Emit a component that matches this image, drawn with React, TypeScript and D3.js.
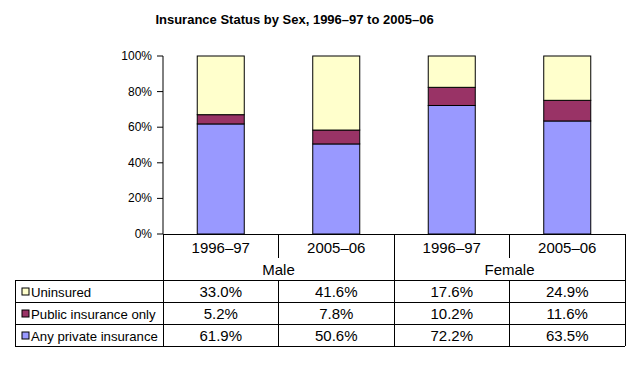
import React from "react";
import * as d3 from "d3";

const groups = ["Male", "Female"];
const periods = ["1996–97", "2005–06"];
const categories = ["Male 1996–97", "Male 2005–06", "Female 1996–97", "Female 2005–06"];
const seriesNames = ["Uninsured", "Public insurance only", "Any private insurance"];
const uninsured = [33.0, 41.6, 17.6, 24.9];
const publicOnly = [5.2, 7.8, 10.2, 11.6];
const privateIns = [61.9, 50.6, 72.2, 63.5];
const yTicks = [0, 0.2, 0.4, 0.6, 0.8, 1];

const colors: Record<string, string> = {
  "Uninsured": "#FFFFCC",
  "Public insurance only": "#993366",
  "Any private insurance": "#9999FF",
};

const W = 638;
const H = 365;
const left = 163;
const right = 625;
const top = 56;
const axisY = 234;
const tableLeft = 15;
const yearRowBottom = 258;
const groupRowBottom = 280;
const rowH = 22;
const font = "'Liberation Sans', Arial, sans-serif";

const App = () => {
  const rows = categories.map((c, i) => ({
    cat: c,
    "Any private insurance": privateIns[i],
    "Public insurance only": publicOnly[i],
    "Uninsured": uninsured[i],
  }));

  // stacked bottom-up: private, public, uninsured (100% stacked)
  const stacked = d3
    .stack<any>()
    .keys(["Any private insurance", "Public insurance only", "Uninsured"])
    .offset(d3.stackOffsetExpand)(rows);

  const x = d3.scaleBand().domain(categories).range([left, right]).paddingInner(0).paddingOuter(0);
  const xBar = d3.scaleBand().domain(categories).range([left, right]).paddingInner(0.593).paddingOuter(0.2965);
  const y = d3.scaleLinear().domain([0, 1]).range([axisY, top]);

  const tableRows = [uninsured, publicOnly, privateIns];
  const fmt = (v: number) => v.toFixed(1) + "%";

  return (
    <svg width={W} height={H} style={{ position: "absolute", left: 0, top: 0, background: "#fff" }} fontFamily={font}>
      <rect width={W} height={H} fill="#fff" />
      <text x={294.5} y={24} textAnchor="middle" fontSize={13} fontWeight="bold" fill="#000">
        Insurance Status by Sex, 1996–97 to 2005–06
      </text>

      {/* y axis */}
      <line x1={left} x2={left} y1={top} y2={axisY} stroke="#000" />
      {yTicks.map((t) => (
        <g key={t}>
          <line x1={left - 6} x2={left} y1={y(t)} y2={y(t)} stroke="#000" />
          <text x={left - 11} y={y(t) + 4} textAnchor="end" fontSize={12} fill="#000">
            {d3.format(".0%")(t)}
          </text>
        </g>
      ))}

      {/* bars */}
      {stacked.map((s) => (
        <g key={s.key} fill={colors[s.key]}>
          {s.map((d, i) => (
            <rect
              key={i}
              x={xBar(categories[i])}
              width={xBar.bandwidth()}
              y={y(d[1])}
              height={y(d[0]) - y(d[1])}
              stroke="#000"
              strokeWidth={1}
            />
          ))}
        </g>
      ))}

      {/* table lines */}
      <g stroke="#000" strokeWidth={1} shapeRendering="crispEdges">
        <line x1={left} x2={right} y1={axisY} y2={axisY} />
        {[groupRowBottom, groupRowBottom + rowH, groupRowBottom + 2 * rowH, groupRowBottom + 3 * rowH].map((yy) => (
          <line key={yy} x1={tableLeft} x2={right} y1={yy} y2={yy} />
        ))}
        <line x1={tableLeft} x2={tableLeft} y1={groupRowBottom} y2={groupRowBottom + 3 * rowH} />
        <line x1={left} x2={left} y1={axisY} y2={groupRowBottom + 3 * rowH} />
        <line x1={right} x2={right} y1={axisY} y2={groupRowBottom + 3 * rowH} />
        {categories.map((c, i) =>
          i === 0 ? null : i % 2 === 0 ? (
            <line key={c} x1={x(c)} x2={x(c)} y1={axisY} y2={groupRowBottom + 3 * rowH} />
          ) : (
            <g key={c}>
              <line x1={x(c)} x2={x(c)} y1={axisY} y2={yearRowBottom} />
              <line x1={x(c)} x2={x(c)} y1={groupRowBottom} y2={groupRowBottom + 3 * rowH} />
            </g>
          )
        )}
      </g>

      {/* category labels */}
      {categories.map((c, i) => (
        <text key={c} x={x(c)! + x.bandwidth() / 2} y={253} textAnchor="middle" fontSize={15} fill="#000">
          {periods[i % 2]}
        </text>
      ))}
      {groups.map((g, gi) => (
        <text
          key={g}
          x={x(categories[gi * 2])! + x.bandwidth()}
          y={275}
          textAnchor="middle"
          fontSize={15}
          fill="#000"
        >
          {g}
        </text>
      ))}

      {/* legend + values */}
      {seriesNames.map((name, r) => {
        const rowTop = groupRowBottom + r * rowH;
        return (
          <g key={name}>
            <rect x={22} y={rowTop + 8} width={7} height={7} fill={colors[name]} stroke="#000" strokeWidth={1} />
            <text x={31} y={rowTop + 16.5} fontSize={13.2} fill="#000">
              {name}
            </text>
            {tableRows[r].map((v, i) => (
              <text
                key={i}
                x={x(categories[i])! + x.bandwidth() / 2}
                y={rowTop + 17}
                textAnchor="middle"
                fontSize={15}
                fill="#000"
              >
                {fmt(v)}
              </text>
            ))}
          </g>
        );
      })}
    </svg>
  );
};

export default App;
